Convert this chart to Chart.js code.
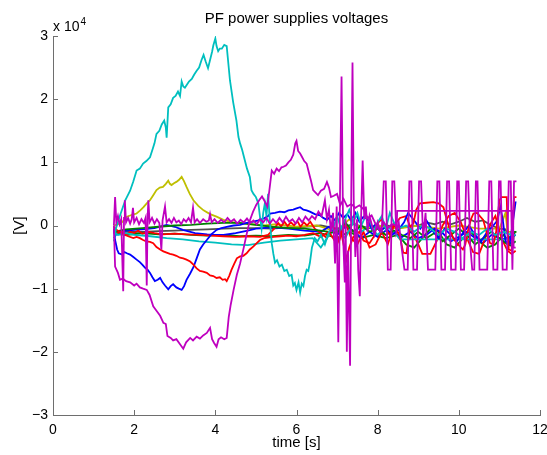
<!DOCTYPE html>
<html>
<head>
<meta charset="utf-8">
<script src="https://cdn.jsdelivr.net/npm/chart.js@4.4.1/dist/chart.umd.min.js"></script>
<style>
  html, body { margin: 0; padding: 0; background: #fff; }
</style>
</head>
<body>
<canvas id="pfChart" width="547" height="455"></canvas>
<script>
// PF power supply voltages, values in units of 10^4 V, pairs are [time s, value]
const titleText = 'PF power supplies voltages';
const xLabel = 'time [s]';
const yLabel = '[V]';
const xTicks = [0, 2, 4, 6, 8, 10, 12];
const yTicks = [-3, -2, -1, 0, 1, 2, 3];

const grayLine = [[1.50,-0.12],[1.80,-0.10],[2.20,-0.10],[2.60,-0.09],[3.00,-0.08],[3.40,-0.07],[3.80,-0.06],[4.20,-0.05],[4.60,-0.04],[5.00,-0.04],[5.40,-0.05],[5.80,-0.03],[6.20,-0.02],[6.60,0.00],[7.00,-0.05],[7.40,0.02],[7.80,-0.04],[8.20,0.00],[8.60,-0.03],[9.00,0.00],[9.20,0.05],[9.40,0.02],[9.60,0.06],[9.80,0.02],[10.00,0.06],[10.20,0.12],[10.40,0.06],[10.60,0.08],[10.80,0.00],[11.00,-0.05],[11.15,-0.06],[11.25,-0.20],[11.40,-0.10]];

const yellowLine = [[1.50,0.00],[1.60,0.02],[1.70,0.05],[1.82,0.14],[1.95,0.17],[2.06,0.19],[2.15,0.24],[2.23,0.29],[2.31,0.35],[2.39,0.40],[2.47,0.48],[2.55,0.56],[2.63,0.60],[2.71,0.61],[2.78,0.66],[2.84,0.71],[2.88,0.66],[2.92,0.64],[2.98,0.67],[3.04,0.69],[3.10,0.72],[3.17,0.77],[3.23,0.70],[3.29,0.61],[3.37,0.50],[3.46,0.40],[3.58,0.31],[3.71,0.24],[3.87,0.18],[4.03,0.14],[4.20,0.09],[4.36,0.06],[4.52,0.04],[4.69,0.03],[4.90,0.02],[5.20,0.00],[5.50,0.02],[6.00,-0.02],[6.50,0.00],[7.00,-0.10],[7.30,0.10],[7.60,-0.05],[8.00,0.00],[8.50,-0.05],[9.00,0.00],[9.50,-0.05],[10.00,0.00],[10.50,-0.05],[11.00,-0.05],[11.15,0.20],[11.20,-0.10],[11.40,-0.10]];

const greenB = [[1.50,-0.12],[1.80,-0.15],[2.20,-0.12],[2.60,-0.14],[3.00,-0.13],[3.40,-0.15],[3.80,-0.16],[4.20,-0.15],[4.60,-0.17],[5.00,-0.16],[5.40,-0.17],[5.80,-0.15],[6.20,-0.16],[6.60,-0.12],[7.00,-0.20],[7.30,-0.10],[7.60,-0.20],[7.90,-0.15],[8.20,-0.20],[8.50,-0.15],[8.70,-0.30],[8.90,-0.35],[9.10,-0.20],[9.30,-0.05],[9.50,-0.10],[9.70,-0.30],[9.90,-0.35],[10.10,-0.20],[10.30,-0.10],[10.50,-0.25],[10.70,-0.35],[10.90,-0.30],[11.10,-0.15],[11.30,-0.30],[11.40,-0.25]];

const blueB = [[1.50,-0.20],[1.60,-0.10],[1.80,-0.08],[2.00,-0.07],[2.20,-0.06],[2.50,-0.04],[2.80,0.01],[3.00,-0.02],[3.20,-0.07],[3.50,-0.12],[3.80,-0.14],[4.00,-0.15],[4.20,-0.15],[4.50,-0.12],[4.80,-0.08],[5.00,-0.05],[5.40,-0.03],[5.80,-0.05],[6.20,-0.08],[6.60,-0.10],[6.80,-0.02],[7.00,-0.15],[7.20,-0.02],[7.40,-0.08],[7.60,-0.20],[7.80,-0.10],[8.00,-0.18],[8.20,-0.08],[8.40,-0.12],[8.60,-0.18],[8.80,-0.10],[9.00,-0.20],[9.20,-0.15],[9.40,-0.05],[9.60,-0.12],[9.80,-0.25],[10.00,-0.18],[10.20,-0.10],[10.40,-0.20],[10.60,-0.28],[10.80,-0.15],[11.00,-0.20],[11.20,-0.22],[11.40,-0.15]];

const redB = [[1.50,-0.05],[1.60,-0.12],[1.70,-0.08],[1.80,-0.15],[1.90,-0.10],[2.00,-0.12],[2.10,-0.08],[2.20,-0.13],[2.35,-0.10],[2.50,-0.12],[2.70,-0.14],[3.00,-0.13],[3.30,-0.14],[3.60,-0.15],[3.90,-0.16],[4.20,-0.17],[4.50,-0.18],[4.80,-0.17],[5.10,-0.18],[5.30,-0.15],[5.45,-0.05],[5.55,0.04],[5.62,-0.02],[5.70,0.06],[5.78,-0.01],[5.86,0.05],[5.94,0.00],[6.02,0.07],[6.10,-0.02],[6.18,0.05],[6.26,0.00],[6.34,0.06],[6.45,-0.05],[6.60,-0.12],[6.75,-0.20],[6.90,0.00],[7.05,-0.25],[7.20,0.05],[7.35,-0.20],[7.50,-0.30],[7.65,-0.10],[7.80,-0.35],[7.95,-0.30],[8.10,-0.10],[8.25,-0.30],[8.40,0.00],[8.55,0.12],[8.70,0.15],[8.85,-0.10],[9.00,-0.30],[9.10,-0.45],[9.30,-0.45],[9.45,-0.25],[9.60,0.00],[9.75,0.15],[9.90,0.20],[10.05,0.05],[10.20,-0.20],[10.35,-0.42],[10.50,-0.45],[10.65,-0.20],[10.80,0.05],[10.90,0.15],[11.05,-0.20],[11.20,-0.40],[11.30,-0.45],[11.40,-0.40]];

const cyanB = [[1.50,-0.10],[1.60,-0.15],[1.80,-0.12],[2.00,-0.15],[2.40,-0.17],[2.80,-0.20],[3.20,-0.22],[3.60,-0.25],[4.00,-0.27],[4.40,-0.30],[4.80,-0.31],[5.20,-0.27],[5.60,-0.24],[6.00,-0.22],[6.40,-0.20],[6.60,-0.35],[6.80,-0.15],[7.00,-0.05],[7.20,-0.20],[7.40,0.05],[7.60,-0.10],[7.80,0.00],[8.00,-0.15],[8.20,0.00],[8.40,-0.10],[8.55,-0.22],[11.35,-0.22]];

const greenA = [[1.50,-0.10],[1.80,-0.06],[2.20,-0.04],[2.60,-0.02],[3.00,0.00],[3.40,0.01],[3.80,0.03],[4.20,0.04],[4.60,0.04],[5.00,0.01],[5.40,-0.02],[5.80,-0.04],[6.20,-0.05],[6.60,-0.08],[7.00,-0.12],[7.20,0.05],[7.40,-0.10],[7.60,0.00],[7.80,-0.10],[8.00,-0.05],[8.20,-0.15],[8.40,-0.08],[8.60,-0.15],[8.80,-0.20],[9.00,-0.10],[9.20,-0.20],[9.40,-0.12],[9.60,-0.25],[9.80,-0.15],[10.00,-0.05],[10.20,-0.15],[10.40,-0.30],[10.60,-0.20],[10.80,-0.10],[11.00,-0.20],[11.20,-0.30],[11.33,-0.33],[11.36,-0.10],[11.42,-0.10]];

const blueA = [[1.50,-0.05],[1.53,-0.23],[1.58,-0.38],[1.62,-0.44],[1.70,-0.46],[1.76,-0.42],[1.82,-0.44],[1.90,-0.46],[1.98,-0.50],[2.06,-0.54],[2.14,-0.58],[2.20,-0.62],[2.27,-0.67],[2.33,-0.70],[2.39,-0.75],[2.45,-0.82],[2.51,-0.88],[2.58,-0.86],[2.64,-0.83],[2.70,-0.90],[2.76,-0.95],[2.84,-1.01],[2.90,-0.96],[2.96,-0.93],[3.04,-0.98],[3.10,-1.00],[3.17,-1.02],[3.23,-0.96],[3.29,-0.86],[3.38,-0.76],[3.46,-0.66],[3.54,-0.52],[3.62,-0.38],[3.70,-0.30],[3.79,-0.23],[3.90,-0.14],[4.03,-0.07],[4.15,-0.04],[4.28,-0.02],[4.45,0.00],[4.61,0.01],[4.77,0.04],[4.94,0.06],[5.06,0.08],[5.19,0.11],[5.30,0.15],[5.35,0.19],[5.47,0.20],[5.59,0.22],[5.70,0.21],[5.80,0.24],[5.92,0.25],[6.00,0.27],[6.09,0.29],[6.17,0.25],[6.25,0.24],[6.33,0.22],[6.45,0.18],[6.58,0.16],[6.66,0.12],[6.75,0.09],[6.85,0.15],[6.95,0.08],[7.05,0.20],[7.15,0.12],[7.25,0.18],[7.35,0.08],[7.45,0.20],[7.55,0.06],[7.65,0.14],[7.75,0.10],[7.85,-0.05],[7.95,0.02],[8.05,-0.08],[8.20,-0.03],[8.35,-0.15],[8.50,-0.08],[8.65,0.05],[8.75,0.20],[8.90,0.08],[9.05,-0.05],[9.20,0.08],[9.35,-0.08],[9.50,-0.20],[9.65,-0.05],[9.80,-0.15],[9.95,-0.25],[10.10,-0.12],[10.25,0.00],[10.40,-0.15],[10.55,-0.25],[10.70,-0.10],[10.85,0.00],[10.95,0.08],[11.02,0.30],[11.08,0.10],[11.15,-0.25],[11.25,-0.30],[11.32,0.00],[11.40,0.38]];

const redA = [[1.50,-0.02],[1.57,-0.07],[1.65,-0.10],[1.75,-0.14],[1.85,-0.17],[1.98,-0.20],[2.06,-0.18],[2.14,-0.20],[2.22,-0.23],[2.30,-0.25],[2.39,-0.26],[2.47,-0.28],[2.55,-0.34],[2.64,-0.38],[2.72,-0.41],[2.80,-0.43],[2.88,-0.45],[2.96,-0.46],[3.04,-0.48],[3.13,-0.51],[3.21,-0.52],[3.29,-0.54],[3.38,-0.57],[3.46,-0.62],[3.54,-0.68],[3.62,-0.72],[3.70,-0.73],[3.79,-0.75],[3.87,-0.79],[3.95,-0.80],[4.03,-0.83],[4.11,-0.82],[4.18,-0.86],[4.24,-0.85],[4.28,-0.88],[4.34,-0.80],[4.40,-0.70],[4.47,-0.60],[4.53,-0.52],[4.61,-0.49],[4.69,-0.48],[4.77,-0.44],[4.85,-0.38],[4.94,-0.33],[5.02,-0.28],[5.10,-0.23],[5.20,-0.20],[5.30,-0.19],[5.43,-0.18],[5.60,-0.17],[5.80,-0.16],[6.00,-0.17],[6.20,-0.15],[6.41,-0.12],[6.60,-0.18],[6.80,-0.10],[7.00,-0.30],[7.10,-0.10],[7.23,-0.54],[7.30,-0.35],[7.40,-0.18],[7.55,-0.10],[7.65,-0.24],[7.80,-0.28],[7.90,-0.18],[8.00,0.04],[8.10,0.10],[8.20,-0.05],[8.30,-0.15],[8.40,0.03],[8.55,-0.18],[8.63,-0.43],[8.71,-0.44],[8.80,-0.02],[8.88,0.03],[8.95,0.25],[9.04,0.35],[9.20,0.36],[9.37,0.37],[9.50,0.35],[9.62,0.29],[9.70,0.10],[9.78,-0.07],[9.86,-0.20],[9.95,-0.28],[10.10,-0.38],[10.16,-0.30],[10.23,-0.07],[10.30,0.10],[10.36,0.19],[10.45,0.20],[10.60,0.09],[10.68,-0.10],[10.77,-0.28],[10.85,-0.30],[10.92,-0.10],[11.00,0.40],[11.05,0.45],[11.18,0.45],[11.20,0.00],[11.23,-0.38],[11.30,-0.40],[11.33,0.00],[11.36,0.45],[11.42,0.45]];

const cyanA = [[1.50,-0.25],[1.55,-0.05],[1.62,0.10],[1.70,0.25],[1.78,0.40],[1.82,0.45],[1.90,0.55],[1.98,0.70],[2.06,0.87],[2.14,0.90],[2.22,0.98],[2.30,1.02],[2.39,1.08],[2.45,1.20],[2.50,1.30],[2.55,1.45],[2.62,1.50],[2.68,1.60],[2.74,1.66],[2.78,1.55],[2.80,1.39],[2.84,1.87],[2.90,1.92],[2.96,2.02],[3.02,2.05],[3.08,2.12],[3.13,2.05],[3.17,2.28],[3.21,2.20],[3.25,2.18],[3.29,2.22],[3.35,2.28],[3.42,2.32],[3.48,2.39],[3.54,2.45],[3.60,2.50],[3.66,2.62],[3.71,2.70],[3.76,2.60],[3.82,2.49],[3.87,2.62],[3.92,2.75],[3.95,2.85],[4.00,2.96],[4.03,2.84],[4.07,2.76],[4.11,2.80],[4.16,2.80],[4.22,2.86],[4.28,2.84],[4.36,2.30],[4.44,1.95],[4.52,1.66],[4.57,1.40],[4.61,1.30],[4.66,1.20],[4.72,1.05],[4.78,0.90],[4.85,0.77],[4.89,0.56],[4.94,0.50],[5.00,0.45],[5.06,0.35],[5.10,0.14],[5.14,-0.05],[5.18,0.20],[5.22,0.35],[5.26,0.15],[5.30,0.50],[5.34,0.10],[5.39,-0.28],[5.43,-0.45],[5.47,-0.59],[5.52,-0.55],[5.58,-0.65],[5.64,-0.62],[5.70,-0.72],[5.76,-0.70],[5.82,-0.80],[5.88,-0.78],[5.92,-0.95],[5.96,-0.91],[6.00,-1.02],[6.05,-0.90],[6.09,-1.06],[6.13,-0.92],[6.17,-0.96],[6.21,-0.80],[6.25,-0.70],[6.29,-0.72],[6.33,-0.59],[6.38,-0.35],[6.45,-0.20],[6.52,-0.25],[6.60,-0.15],[6.70,-0.30],[6.80,-0.10],[6.90,-0.05],[7.00,0.15],[7.10,-0.05],[7.20,0.10],[7.30,0.25],[7.40,0.05],[7.50,0.20],[7.60,0.00],[7.70,0.15],[7.80,0.10],[7.90,-0.10],[8.00,0.05],[8.10,0.15],[8.20,-0.05],[8.30,0.20],[8.40,0.05],[8.50,-0.05],[8.70,0.00],[8.90,-0.10],[9.10,0.00],[9.30,-0.05],[9.50,-0.15],[9.70,-0.05],[9.90,-0.10],[10.10,-0.20],[10.30,-0.10],[10.50,-0.15],[10.70,-0.05],[10.90,-0.15],[11.10,-0.10],[11.30,-0.15],[11.40,-0.15]];

const magentaB = [[1.50,0.00],[1.53,0.45],[1.56,0.05],[1.60,0.15],[1.64,0.02],[1.68,0.10],[1.73,-1.04],[1.75,0.12],[1.77,0.40],[1.80,0.05],[1.85,0.12],[1.90,0.03],[1.94,0.10],[1.97,0.28],[2.00,0.05],[2.06,0.12],[2.12,0.02],[2.18,0.10],[2.24,0.04],[2.28,0.12],[2.31,-0.95],[2.33,0.10],[2.35,0.40],[2.38,0.05],[2.44,0.12],[2.50,0.03],[2.56,0.10],[2.62,0.04],[2.67,-0.38],[2.70,0.08],[2.76,0.30],[2.80,0.05],[2.86,0.10],[2.92,0.04],[2.98,0.12],[3.04,0.05],[3.10,0.08],[3.16,0.02],[3.22,0.10],[3.28,0.06],[3.34,0.12],[3.40,0.05],[3.45,0.28],[3.49,0.05],[3.55,0.10],[3.62,0.04],[3.70,0.10],[3.78,0.06],[3.84,0.08],[3.87,0.18],[3.91,0.05],[3.98,0.10],[4.06,0.04],[4.14,0.09],[4.22,0.05],[4.30,0.12],[4.38,0.06],[4.46,0.10],[4.54,0.03],[4.62,0.09],[4.70,0.05],[4.78,0.11],[4.86,0.04],[4.94,0.08],[5.02,0.02],[5.10,0.10],[5.18,0.05],[5.26,0.12],[5.34,0.03],[5.42,0.10],[5.50,0.04],[5.58,0.12],[5.66,0.05],[5.74,0.14],[5.82,0.06],[5.90,0.10],[5.98,0.03],[6.06,0.12],[6.14,0.05],[6.22,0.14],[6.30,0.08],[6.38,0.15],[6.46,0.10],[6.54,0.22],[6.62,0.15],[6.70,0.40],[6.75,0.10],[6.80,0.25],[6.85,-0.10],[6.90,0.20],[6.95,-0.60],[6.99,0.30],[7.03,-1.85],[7.07,0.40],[7.11,2.36],[7.15,-0.20],[7.19,-0.90],[7.21,0.10],[7.24,-2.00],[7.27,-0.40],[7.32,-2.22],[7.35,0.60],[7.38,2.58],[7.41,0.40],[7.45,-0.50],[7.49,0.10],[7.52,-0.70],[7.56,-1.12],[7.59,0.10],[7.63,1.03],[7.67,0.10],[7.71,0.30],[7.75,-0.10],[7.80,0.15],[7.86,0.00],[7.92,-0.15],[8.00,0.05],[8.06,-0.10],[8.10,-0.10],[8.15,0.70],[8.20,0.70],[8.25,-0.70],[8.32,-0.70],[8.36,0.70],[8.41,0.70],[8.46,-0.10],[8.52,0.05],[8.60,-0.40],[8.66,-0.70],[8.74,-0.70],[8.78,0.70],[8.83,0.70],[8.88,-0.70],[8.97,-0.70],[9.02,0.70],[9.07,0.70],[9.12,-0.20],[9.18,0.20],[9.24,-0.70],[9.42,-0.70],[9.47,0.70],[9.52,0.70],[9.57,-0.70],[9.66,-0.70],[9.71,0.70],[9.76,0.70],[9.81,-0.70],[9.92,-0.70],[9.96,0.70],[10.00,0.70],[10.05,-0.70],[10.13,-0.70],[10.18,0.70],[10.23,0.70],[10.28,-0.30],[10.33,-0.70],[10.38,-0.70],[10.42,0.70],[10.46,0.70],[10.51,-0.70],[10.70,-0.70],[10.75,0.70],[10.80,0.70],[10.85,-0.70],[10.95,-0.70],[10.99,0.70],[11.03,0.70],[11.08,-0.70],[11.18,-0.70],[11.23,0.70],[11.28,0.70],[11.32,-0.70],[11.36,0.70],[11.42,0.70]];

const magentaA = [[1.50,0.00],[1.53,-0.65],[1.60,-0.75],[1.65,-0.86],[1.72,-0.84],[1.80,-0.88],[1.90,-0.90],[2.00,-0.95],[2.06,-0.92],[2.14,-0.98],[2.22,-1.00],[2.31,-1.02],[2.38,-1.10],[2.47,-1.28],[2.55,-1.35],[2.64,-1.43],[2.72,-1.54],[2.78,-1.56],[2.82,-1.75],[2.90,-1.78],[2.96,-1.82],[3.04,-1.80],[3.13,-1.88],[3.21,-1.95],[3.28,-1.85],[3.38,-1.78],[3.45,-1.82],[3.54,-1.76],[3.62,-1.79],[3.70,-1.74],[3.79,-1.70],[3.87,-1.62],[3.92,-1.80],[3.97,-1.86],[4.03,-1.92],[4.08,-1.80],[4.14,-1.77],[4.22,-1.80],[4.28,-1.78],[4.33,-1.45],[4.38,-1.25],[4.45,-1.02],[4.53,-0.78],[4.61,-0.60],[4.70,-0.35],[4.77,-0.14],[4.85,0.08],[4.93,0.22],[5.01,0.33],[5.08,0.40],[5.15,0.46],[5.22,0.38],[5.28,0.30],[5.33,0.55],[5.39,0.87],[5.45,0.82],[5.51,0.90],[5.57,0.86],[5.63,0.92],[5.68,0.93],[5.74,0.95],[5.80,1.00],[5.86,1.04],[5.92,1.12],[5.97,1.30],[6.00,1.34],[6.04,1.18],[6.09,1.14],[6.14,1.08],[6.19,1.02],[6.25,0.98],[6.30,0.85],[6.36,0.70],[6.41,0.56],[6.47,0.52],[6.53,0.48],[6.60,0.55],[6.68,0.58],[6.75,0.69],[6.80,0.60],[6.85,0.45],[6.92,0.47],[7.00,0.50],[7.08,0.32],[7.16,0.42],[7.25,0.30],[7.35,0.34],[7.45,0.28],[7.55,0.32],[7.65,0.26],[7.75,0.12],[7.85,0.16],[7.95,0.02],[8.05,-0.08],[8.15,0.05],[8.25,-0.04],[8.35,0.02],[8.47,0.00],[8.48,0.23],[11.33,0.23],[11.35,-0.35],[11.40,-0.35]];

// MATLAB-like colour order, drawn bottom to top
const seriesList = [
  { data: grayLine,   color: '#505050' },
  { data: yellowLine, color: '#bfbf00' },
  { data: greenB,     color: '#008000' },
  { data: blueB,      color: '#0000ff' },
  { data: redB,       color: '#ff0000' },
  { data: cyanB,      color: '#00bfbf' },
  { data: greenA,     color: '#008000' },
  { data: blueA,      color: '#0000ff' },
  { data: redA,       color: '#ff0000' },
  { data: cyanA,      color: '#00bfbf' },
  { data: magentaB,   color: '#bf00bf' },
  { data: magentaA,   color: '#bf00bf' }
];

const axisColor = '#6e6e6e';
const fontFamily = '"Liberation Sans", Arial, Helvetica, sans-serif';

function fmtTick(v) {
  return v < 0 ? '\u2212' + Math.abs(v) : String(v);
}

// inward tick marks, title, axis labels and the exponent note
const matlabDecor = {
  id: 'matlabDecor',
  afterDraw(chart) {
    const { ctx, chartArea: a, scales: { x, y } } = chart;
    ctx.save();
    ctx.strokeStyle = axisColor;
    ctx.lineWidth = 1;
    ctx.beginPath();
    xTicks.forEach(v => {
      const px = Math.round(x.getPixelForValue(v)) + 0.5;
      ctx.moveTo(px, a.bottom);
      ctx.lineTo(px, a.bottom - 5);
    });
    yTicks.forEach(v => {
      const py = Math.round(y.getPixelForValue(v)) + 0.5;
      ctx.moveTo(a.left, py);
      ctx.lineTo(a.left + 5, py);
    });
    ctx.stroke();

    ctx.fillStyle = '#000';
    ctx.textAlign = 'center';
    ctx.textBaseline = 'alphabetic';
    ctx.font = '15px ' + fontFamily;
    const cx = (a.left + a.right) / 2;
    ctx.fillText(titleText, cx, 23);
    ctx.fillText(xLabel, cx, 447);

    // exponent "x 10^4"
    ctx.textAlign = 'left';
    ctx.font = '14px ' + fontFamily;
    ctx.fillText('x 10', 53, 31);
    const w = ctx.measureText('x 10').width;
    ctx.font = '10px ' + fontFamily;
    ctx.fillText('4', 53 + w + 1, 25);

    ctx.translate(24, (a.top + a.bottom) / 2);
    ctx.rotate(-Math.PI / 2);
    ctx.textAlign = 'center';
    ctx.font = '15px ' + fontFamily;
    ctx.fillText(yLabel, 0, 0);
    ctx.restore();
  }
};

const n = seriesList.length;
const datasets = seriesList.map((s, i) => ({
  data: s.data.map(p => ({ x: p[0], y: p[1] })),
  borderColor: s.color,
  backgroundColor: s.color,
  borderWidth: 1.8,
  pointRadius: 0,
  tension: 0,
  fill: false,
  order: n - i
}));

const ctx = document.getElementById('pfChart').getContext('2d');
new Chart(ctx, {
  type: 'line',
  data: { datasets: datasets },
  options: {
    responsive: false,
    animation: false,
    events: [],
    layout: { padding: { top: 36, right: 7, bottom: 0, left: 0 } },
    plugins: {
      legend: { display: false },
      tooltip: { enabled: false },
      title: { display: false }
    },
    scales: {
      x: {
        type: 'linear',
        min: 0,
        max: 12,
        afterBuildTicks: scale => { scale.ticks = xTicks.map(v => ({ value: v })); },
        afterFit: scale => {
          scale.height = 40;
          scale.paddingLeft = 0;
          scale.paddingRight = 0;
        },
        grid: { display: false, drawTicks: false },
        border: { display: true, color: axisColor, width: 1 },
        ticks: {
          color: '#000',
          padding: 7,
          maxRotation: 0,
          autoSkip: false,
          font: { family: fontFamily, size: 14 },
          callback: v => fmtTick(v)
        }
      },
      y: {
        type: 'linear',
        min: -3,
        max: 3,
        afterBuildTicks: scale => { scale.ticks = yTicks.map(v => ({ value: v })); },
        afterFit: scale => {
          scale.width = 53;
          scale.paddingTop = 0;
          scale.paddingBottom = 0;
        },
        grid: { display: false, drawTicks: false },
        border: { display: true, color: axisColor, width: 1 },
        ticks: {
          color: '#000',
          padding: 5,
          autoSkip: false,
          font: { family: fontFamily, size: 14 },
          callback: v => fmtTick(v)
        }
      }
    }
  },
  plugins: [matlabDecor]
});
</script>
</body>
</html>
